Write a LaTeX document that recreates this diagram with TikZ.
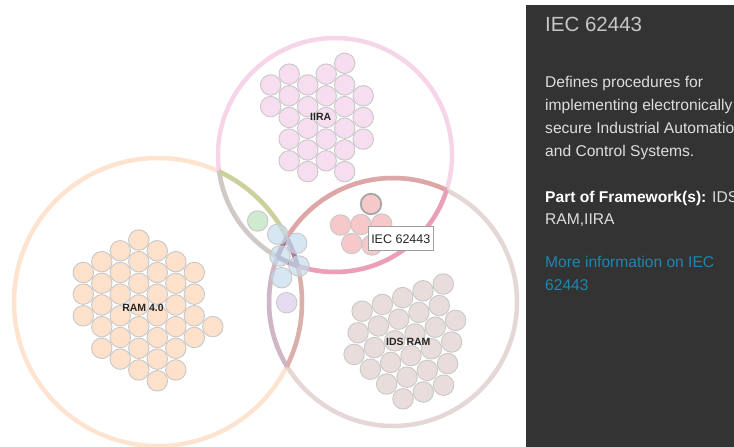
\documentclass[tikz,border=0pt]{standalone}
\usepackage{fontspec}
\setmainfont{Liberation Sans}
\usepackage{xcolor}
\usepackage{tikz}
\usetikzlibrary{positioning}
\definecolor{iiracolor}{RGB}{246,221,239}
\definecolor{ramcolor}{RGB}{253,225,203}
\definecolor{idscolor}{RGB}{232,221,219}
\definecolor{bothcolor}{RGB}{246,200,202}
\definecolor{greencolor}{RGB}{208,234,208}
\definecolor{bluecolor}{RGB}{196,220,236}
\definecolor{lavcolor}{RGB}{230,220,241}
\definecolor{bubbleedge}{RGB}{200,200,200}
\definecolor{iiraring}{RGB}{246,213,233}
\definecolor{ramring}{RGB}{254,228,208}
\definecolor{idsring}{RGB}{229,215,213}
\definecolor{greyarc}{RGB}{207,202,197}
\definecolor{olivearc}{RGB}{203,208,156}
\definecolor{redarc}{RGB}{222,166,166}
\definecolor{pinkarc}{RGB}{234,158,184}
\definecolor{purplearc}{RGB}{206,182,199}
\definecolor{brownarc}{RGB}{218,176,172}
\definecolor{triplearc}{RGB}{168,124,164}
\definecolor{panelcolor}{RGB}{51,51,51}
\definecolor{panelfont}{RGB}{222,222,222}
\definecolor{linkcolor}{RGB}{29,135,176}

\begin{document}
\begin{tikzpicture}[
    x=1pt, y=-1pt,
    ring/.style={line width=4.5pt},
    bubble/.style={circle, draw=bubbleedge, line width=0.9pt, minimum size=20.5pt, inner sep=0pt},
    framelabel/.style={font=\fontsize{10.5}{12}\selectfont\bfseries, text=black!85, inner sep=0pt},
    tooltip/.style={draw=gray!75, fill=white, line width=0.8pt, font=\fontsize{12.5}{14}\selectfont, text=black!85, minimum width=65pt, minimum height=24pt, inner sep=2pt},
    paneltitle/.style={anchor=base west, inner sep=0pt, font=\fontsize{20.5}{24}\selectfont, text=gray!45},
    paneltext/.style={anchor=base west, inner sep=0pt, font=\fontsize{15.6}{18}\selectfont, text=panelfont}
]
    \useasboundingbox (0,0) rectangle (734,447);

    % Framework circles
    \coordinate (iira) at (335,155);
    \coordinate (ram) at (158,302);
    \coordinate (ids) at (393,302);
    \draw[ring, ramring] (ram) circle[radius=144pt];
    \draw[ring, iiraring] (iira) circle[radius=117pt];
    \draw[ring, idsring] (ids) circle[radius=124pt];

    % Overlaps of two frameworks
    \begin{scope}
        \clip (ram) circle[radius=144pt];
        \draw[ring, greyarc] (iira) circle[radius=117pt];
        \draw[ring, purplearc] (ids) circle[radius=124pt];
    \end{scope}
    \begin{scope}
        \clip (iira) circle[radius=117pt];
        \draw[ring, olivearc] (ram) circle[radius=144pt];
        \draw[ring, redarc] (ids) circle[radius=124pt];
    \end{scope}
    \begin{scope}
        \clip (ids) circle[radius=124pt];
        \draw[ring, pinkarc] (iira) circle[radius=117pt];
        \draw[ring, brownarc] (ram) circle[radius=144pt];
    \end{scope}

    % Overlap of all three
    \begin{scope}
        \clip (ram) circle[radius=144pt];
        \clip (ids) circle[radius=124pt];
        \draw[ring, triplearc] (iira) circle[radius=117pt];
    \end{scope}
    \begin{scope}
        \clip (iira) circle[radius=117pt];
        \clip (ids) circle[radius=124pt];
        \draw[ring, triplearc] (ram) circle[radius=144pt];
    \end{scope}
    \begin{scope}
        \clip (iira) circle[radius=117pt];
        \clip (ram) circle[radius=144pt];
        \draw[ring, triplearc] (ids) circle[radius=124pt];
    \end{scope}

    % IIRA standards
    \foreach \c/\ks in {0/{2,4}, 1/{1,3,5,7,9}, 2/{2,4,6,8,10}, 3/{1,3,5,7,9}, 4/{0,2,4,6,8,10}, 5/{3,5,7}}
        \foreach \k in \ks
            \node[bubble, fill=iiracolor] (iira-\c-\k) at ({270.7+18.5*\c},{63.3+10.83*\k}) {};

    % RAM 4.0 standards
    \foreach \c/\ks in {0/{3,5,7}, 1/{2,4,6,8,10}, 2/{1,3,5,7,9,11}, 3/{0,2,4,6,8,10,12}, 4/{1,3,5,7,9,11,13}, 5/{2,4,6,8,10,12}, 6/{3,5,7,9}, 7/{8}}
        \foreach \k in \ks
            \node[bubble, fill=ramcolor] (ram-\c-\k) at ({83.3+18.5*\c},{240+10.83*\k}) {};

    % IDS RAM standards
    \foreach \j/\is in {0/{0,...,4}, 1/{0,...,4}, 2/{-1,...,4}, 3/{-1,...,3}, 4/{-1,...,2}, 5/{-1,...,1}}
        \foreach \i in \is
            \node[bubble, fill=idscolor] (ids-\j-\i) at ({443.3-20.3*\i-4*\j},{284+6.8*\i+21.6*\j}) {};

    % Shared standards
    \node[bubble, fill=greencolor] (iiraram) at (257.7,221) {};
    \node[bubble, fill=bluecolor, fill opacity=0.7] (all1) at (277.7,234.3) {};
    \node[bubble, fill=bluecolor, fill opacity=0.7] (all2) at (296.7,243.3) {};
    \node[bubble, fill=bluecolor, fill opacity=0.7] (all3) at (280,256) {};
    \node[bubble, fill=bluecolor, fill opacity=0.7] (all4) at (299,266) {};
    \node[bubble, fill=bluecolor, fill opacity=0.7] (all5) at (281.7,277.7) {};
    \node[bubble, fill=lavcolor] (ramids) at (286.7,302.7) {};
    \node[bubble, fill=bothcolor] (both2) at (340.5,225) {};
    \node[bubble, fill=bothcolor] (both3) at (361,224.5) {};
    \node[bubble, fill=bothcolor] (both4) at (381.7,224) {};
    \node[bubble, fill=bothcolor] (both5) at (351.7,243.5) {};
    \node[bubble, fill=bothcolor] (both6) at (372,245) {};
    \node[bubble, fill=bothcolor, draw=gray!70, line width=1.8pt] (iec) at (371,204) {};

    % Framework labels
    \node[framelabel] (iiralabel) at (320.7,117) {IIRA};
    \node[framelabel] (ramlabel) at (143,308) {RAM 4.0};
    \node[framelabel] (idslabel) at (408.3,341.7) {IDS RAM};

    % Hover tip
    \node[tooltip] (tip) at (400.8,238.7) {IEC 62443};

    % Info panel
    \begin{scope}
        \clip (526,5) rectangle (734,447);
        \fill[panelcolor] (526,5) rectangle (734,447);
        \node[paneltitle] (title) at (545,31) {IEC 62443};
        \node[paneltext] (desc1) at (545,87.5) {Defines procedures for};
        \node[paneltext] (desc2) at (545,110.5) {implementing electronically};
        \node[paneltext] (desc3) at (545,133.5) {secure Industrial Automation};
        \node[paneltext] (desc4) at (545,156.5) {and Control Systems.};
        \node[paneltext] (part1) at (545,202.5) {\textcolor{white}{\bfseries Part of Framework(s):} IDS};
        \node[paneltext] (part2) at (545,224.5) {RAM,IIRA};
        \node[paneltext, text=linkcolor] (more1) at (545,267) {More information on IEC};
        \node[paneltext, text=linkcolor] (more2) at (545,290) {62443};
    \end{scope}
\end{tikzpicture}
\end{document}
